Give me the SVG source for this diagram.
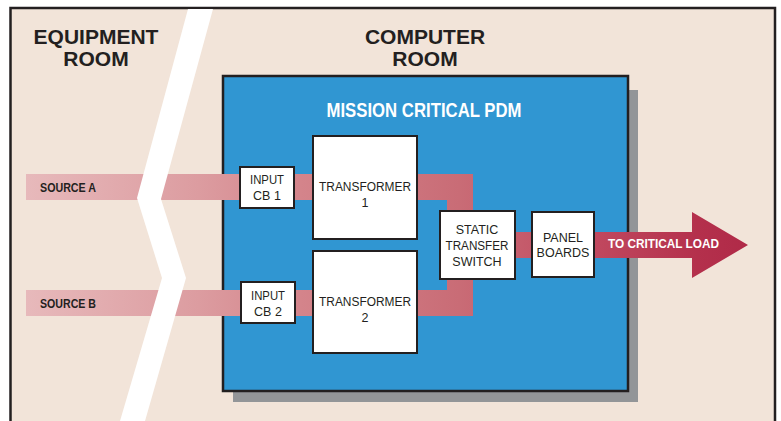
<svg xmlns="http://www.w3.org/2000/svg" width="781" height="421" viewBox="0 0 781 421">
<defs>
<linearGradient id="flow" gradientUnits="userSpaceOnUse" x1="26" y1="0" x2="748" y2="0">
<stop offset="0" stop-color="#e7b9bb"/>
<stop offset="0.24" stop-color="#dc9ca0"/>
<stop offset="0.38" stop-color="#d4848b"/>
<stop offset="0.60" stop-color="#c96c76"/>
<stop offset="0.795" stop-color="#c0475e"/>
<stop offset="0.93" stop-color="#b4304c"/>
<stop offset="1" stop-color="#b02a48"/>
</linearGradient>
<style>
.node rect{fill:#ffffff;stroke:#231f20;stroke-width:2}
.lbl{font-family:"Liberation Sans",Arial,sans-serif;font-size:12.5px;fill:#231f20;text-anchor:middle}
.room{font-family:"Liberation Sans",Arial,sans-serif;font-size:21px;font-weight:bold;fill:#231f20;text-anchor:middle}
.src{font-family:"Liberation Sans",Arial,sans-serif;font-size:12.5px;font-weight:bold;fill:#231f20}
.wt{font-family:"Liberation Sans",Arial,sans-serif;font-weight:bold;fill:#ffffff}
</style>
</defs>
<rect x="0" y="0" width="781" height="421" fill="#ffffff"/>
<rect x="10.5" y="8" width="764.5" height="430" fill="#f2e4d9" stroke="#231f20" stroke-width="2.5"/>
<g id="computer-room">
<rect x="233" y="90" width="405" height="312" fill="#939598"/>
<rect x="223" y="76" width="405" height="315" fill="#3096d2" stroke="#231f20" stroke-width="2.5"/>
<text class="wt" x="424" y="117" font-size="19.5" text-anchor="middle" textLength="195" lengthAdjust="spacingAndGlyphs">MISSION CRITICAL PDM</text>
</g>
<g id="connectors" fill="url(#flow)">
<path d="M26,174 H473 V245 H447 V200 H26 Z"/>
<path d="M26,290 H447 V245 H473 V316 H26 Z"/>
<path d="M473,232 H692 V212 L748,245 L692,278 V258 H473 Z"/>
</g>
<polygon points="188,9 213,9 161,199 186,278 145,421 120,421 162,278 137,198" fill="#ffffff"/>
<text class="room" x="96" y="44">EQUIPMENT</text>
<text class="room" x="96" y="66">ROOM</text>
<text class="room" x="425" y="44">COMPUTER</text>
<text class="room" x="425" y="66">ROOM</text>
<text class="src" x="40" y="192" textLength="56" lengthAdjust="spacingAndGlyphs">SOURCE A</text>
<text class="src" x="40" y="308" textLength="56" lengthAdjust="spacingAndGlyphs">SOURCE B</text>
<text class="wt" x="608" y="248" font-size="12.5" textLength="111" lengthAdjust="spacingAndGlyphs">TO CRITICAL LOAD</text>
<g id="input-cb1" class="node">
<rect x="240" y="167" width="54" height="41"/>
<text class="lbl" x="267" y="184" textLength="34" lengthAdjust="spacingAndGlyphs">INPUT</text>
<text class="lbl" x="267" y="200">CB 1</text>
</g>
<g id="input-cb2" class="node">
<rect x="241" y="282" width="54" height="41"/>
<text class="lbl" x="268" y="300" textLength="34" lengthAdjust="spacingAndGlyphs">INPUT</text>
<text class="lbl" x="268" y="316">CB 2</text>
</g>
<g id="transformer1" class="node">
<rect x="313" y="136" width="104" height="103"/>
<text class="lbl" x="365" y="191" textLength="92" lengthAdjust="spacingAndGlyphs">TRANSFORMER</text>
<text class="lbl" x="365" y="207">1</text>
</g>
<g id="transformer2" class="node">
<rect x="313" y="251" width="104" height="102"/>
<text class="lbl" x="365" y="306" textLength="92" lengthAdjust="spacingAndGlyphs">TRANSFORMER</text>
<text class="lbl" x="365" y="322">2</text>
</g>
<g id="sts" class="node">
<rect x="440" y="211" width="75" height="68"/>
<text class="lbl" x="477" y="234">STATIC</text>
<text class="lbl" x="477" y="250" textLength="63" lengthAdjust="spacingAndGlyphs">TRANSFER</text>
<text class="lbl" x="477" y="266">SWITCH</text>
</g>
<g id="panel-boards" class="node">
<rect x="532" y="212" width="62" height="65"/>
<text class="lbl" x="563" y="242">PANEL</text>
<text class="lbl" x="563" y="257">BOARDS</text>
</g>
</svg>
